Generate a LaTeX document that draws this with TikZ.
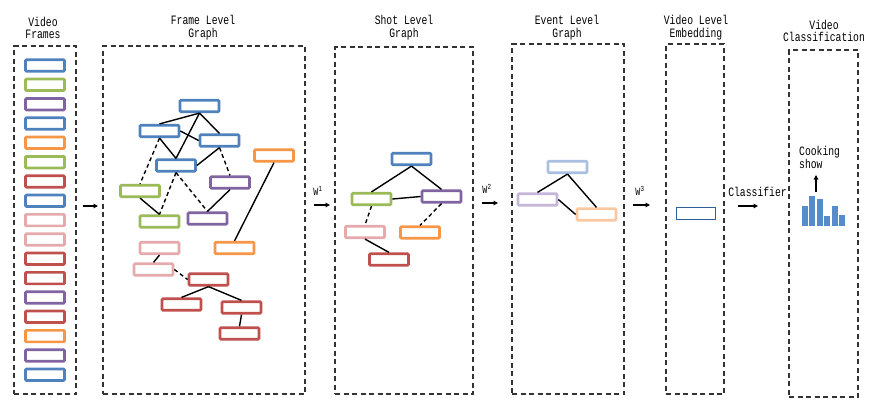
\documentclass[tikz,border=0pt]{standalone}
\usepackage{fontspec}
\usetikzlibrary{arrows.meta}
\newfontfamily\labelfont[FakeStretch=0.76]{Liberation Mono}
\definecolor{FBlue}{RGB}{79,129,189}
\definecolor{FGreen}{RGB}{155,187,89}
\definecolor{FPurple}{RGB}{128,100,162}
\definecolor{FOrange}{RGB}{247,150,70}
\definecolor{FRed}{RGB}{192,80,77}
\definecolor{FPink}{RGB}{229,170,172}
\definecolor{LBlue}{RGB}{169,192,226}
\definecolor{LPurple}{RGB}{196,181,217}
\definecolor{LOrange}{RGB}{250,200,160}
\definecolor{EmbBlue}{RGB}{47,94,154}
\definecolor{BarBlue}{RGB}{84,140,204}
\definecolor{DGray}{HTML}{333333}

\begin{document}
\begin{tikzpicture}[x=1pt, y=-1pt,
    stagebox/.style={draw=DGray, line width=1.3pt, dash pattern=on 5pt off 3.5pt, inner sep=0pt},
    framebox/.style={draw=#1, line width=2.7pt, rounded corners=1pt, fill=white,
        minimum width=39pt, minimum height=11.5pt, inner sep=0pt},
    link/.style={black, line width=1.4pt},
    weaklink/.style={link, dash pattern=on 4pt off 3pt},
    flow/.style={black, line width=1.3pt, -{Triangle[length=4.5pt,width=4.5pt]}},
    title/.style={font=\labelfont\fontsize{12.8}{12.8}\selectfont, align=center, inner sep=0pt},
    wlabel/.style={font=\labelfont\fontsize{11}{11}\selectfont, inner sep=0pt}]
\useasboundingbox (0,0) rectangle (877,418);

% stages
\node[stagebox, minimum width=62pt,  minimum height=348pt] (VF) at (45,220) {};
\node[stagebox, minimum width=202pt, minimum height=348pt] (FL) at (204,220) {};
\node[stagebox, minimum width=138pt, minimum height=347pt] (SL) at (404,220.5) {};
\node[stagebox, minimum width=112pt, minimum height=350pt] (EL) at (568,219) {};
\node[stagebox, minimum width=58pt,  minimum height=350pt] (VE) at (695,219) {};
\node[stagebox, minimum width=69pt,  minimum height=347pt] (VC) at (823.5,223.5) {};

\node[title] (VF-title) at (43,28) {Video\\Frames};
\node[title] (FL-title) at (203,28) {Frame Level\\Graph};
\node[title] (SL-title) at (404,28) {Shot Level\\Graph};
\node[title] (EL-title) at (567,28) {Event Level\\Graph};
\node[title] (VE-title) at (696,28) {Video Level\\Embedding};
\node[title] (VC-title) at (824,31) {Video\\Classification};

% video frames
\foreach \c [count=\i] in {FBlue,FGreen,FPurple,FBlue,FOrange,FGreen,FRed,FBlue,FPink,
    FPink,FRed,FRed,FPurple,FRed,FOrange,FPurple,FBlue}
    \node[framebox=\c] (VF-\i) at (45,{65.5+19.33*(\i-1)}) {};

% frame level graph
\node[framebox=FBlue]   (FL-b1) at (199.5,106) {};
\node[framebox=FBlue]   (FL-b2) at (159.5,131) {};
\node[framebox=FBlue]   (FL-b3) at (219.5,140.5) {};
\node[framebox=FBlue]   (FL-b4) at (176,165.5) {};
\node[framebox=FOrange] (FL-o1) at (274,155.5) {};
\node[framebox=FPurple] (FL-p1) at (230,182.5) {};
\node[framebox=FGreen]  (FL-g1) at (140,191) {};
\node[framebox=FGreen]  (FL-g2) at (159.5,221.5) {};
\node[framebox=FPurple] (FL-p2) at (207.5,218.5) {};
\node[framebox=FPink]   (FL-k1) at (159.5,248) {};
\node[framebox=FOrange] (FL-o2) at (234.5,248) {};
\node[framebox=FPink]   (FL-k2) at (153.5,269.5) {};
\node[framebox=FRed]    (FL-r1) at (208.5,279.5) {};
\node[framebox=FRed]    (FL-r2) at (181.5,304.5) {};
\node[framebox=FRed]    (FL-r3) at (241.5,307.5) {};
\node[framebox=FRed]    (FL-r4) at (239.5,333.5) {};

\draw[link] (FL-b1.south) -- (FL-b2.north);
\draw[link] (FL-b1.south) -- (FL-b3.north);
\draw[link] (FL-b1.south) -- (FL-b4.north);
\draw[link] (FL-b2.east) -- (FL-b3.west);
\draw[link] (FL-b2.south) -- (FL-b4.north);
\draw[link] (FL-b4.east) -- (FL-b3.south);
\draw[weaklink] (FL-b2.south) -- (FL-g1.north);
\draw[weaklink] (FL-b3.south) -- (FL-p1.north);
\draw[weaklink] (FL-b4.south) -- (FL-g2.north);
\draw[weaklink] (FL-b4.south) -- (FL-p2.north);
\draw[link] (FL-g1.south) -- (FL-g2.north);
\draw[link] (FL-p1.south) -- (FL-p2.north);
\draw[link] (FL-o1.south) -- (FL-o2.north);
\draw[link] (FL-k1.south) -- (FL-k2.north);
\draw[weaklink] (FL-k2.east) -- (FL-r1.west);
\draw[link] (FL-r1.south) -- (FL-r2.north);
\draw[link] (FL-r1.south) -- (FL-r3.north);
\draw[link] (FL-r3.south) -- (FL-r4.north);

% shot level graph
\node[framebox=FBlue]   (SL-b) at (411.5,159) {};
\node[framebox=FGreen]  (SL-g) at (371.5,199) {};
\node[framebox=FPurple] (SL-p) at (441.5,196.5) {};
\node[framebox=FPink]   (SL-k) at (365,232) {};
\node[framebox=FOrange] (SL-o) at (420,232.5) {};
\node[framebox=FRed]    (SL-r) at (389,259.5) {};

\draw[link] (SL-b.south) -- (SL-g.north);
\draw[link] (SL-b.south) -- (SL-p.north);
\draw[link] (SL-g.east) -- (SL-p.west);
\draw[weaklink] (SL-g.south) -- (SL-k.north);
\draw[weaklink] (SL-p.south) -- (SL-o.north);
\draw[link] (SL-k.south) -- (SL-r.north);

% event level graph
\node[framebox=LBlue]   (EL-b) at (567.5,167) {};
\node[framebox=LPurple] (EL-p) at (537.5,199.5) {};
\node[framebox=LOrange] (EL-o) at (596.5,214.5) {};

\draw[link] (EL-b.south) -- (EL-p.north);
\draw[link] (EL-b.south) -- (EL-o.north);
\draw[link] (EL-p.east) -- (EL-o.west);

% embedding and classification
\node[draw=EmbBlue, line width=1.3pt, minimum width=39pt, minimum height=12pt, inner sep=0pt]
    (VE-emb) at (696,213.5) {};
\foreach \h [count=\i from 0] in {206,196,199,216,206,215}
    \fill[BarBlue] ({802+7.4*\i},226) rectangle ({808+7.4*\i},\h);
\node[title, align=left, anchor=west] (VC-label) at (799,157.5) {Cooking\\show};
\coordinate (VC-bars) at (816,192);
\coordinate (VC-up) at (816,175);
\draw[flow] (VC-bars) -- (VC-up);

% transitions
\coordinate (a1-s) at (83,206);  \coordinate (a1-e) at (98,206);
\coordinate (a2-s) at (314,205); \coordinate (a2-e) at (330,205);
\coordinate (a3-s) at (482,203); \coordinate (a3-e) at (498,203);
\coordinate (a4-s) at (633,205); \coordinate (a4-e) at (650,205);
\coordinate (a5-s) at (738,206); \coordinate (a5-e) at (758,206);
\draw[flow] (a1-s) -- (a1-e);
\draw[flow] (a2-s) -- (a2-e);
\draw[flow] (a3-s) -- (a3-e);
\draw[flow] (a4-s) -- (a4-e);
\draw[flow] (a5-s) -- (a5-e);
\node[wlabel] (w1) at (318,191) {W\textsuperscript{1}};
\node[wlabel] (w2) at (487,189) {W\textsuperscript{2}};
\node[wlabel] (w3) at (640,191) {W\textsuperscript{3}};
\node[title] (cls) at (757.5,192) {Classifier};
\end{tikzpicture}
\end{document}
